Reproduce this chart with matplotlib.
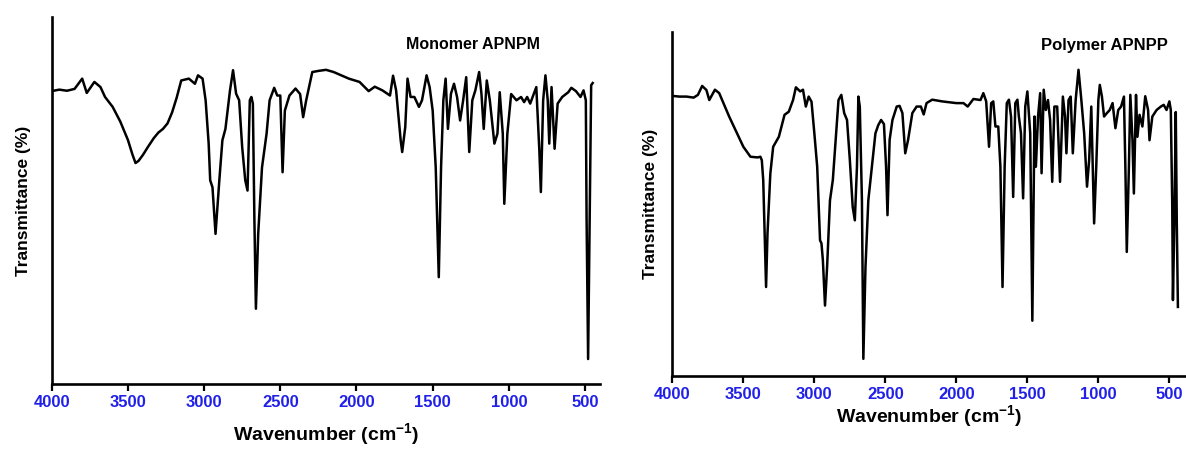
import matplotlib
matplotlib.use("Agg")
import matplotlib.pyplot as plt

plt.rcParams['font.family'] = ['Liberation Sans', 'DejaVu Sans']
plt.rcParams['mathtext.fontset'] = 'custom'
plt.rcParams['mathtext.rm'] = 'Liberation Sans:bold'
plt.rcParams['mathtext.bf'] = 'Liberation Sans:bold'

# ---- data: Monomer APNPM ----
mono_wn = [4000, 3950, 3900, 3850, 3800, 3770, 3720, 3680, 3650, 3600, 3550, 3500, 3470, 3450,
           3430, 3400, 3370, 3330, 3300, 3270, 3240, 3210, 3180, 3150, 3100, 3060, 3040, 3010,
           2990, 2970, 2960, 2945, 2925,
           2900, 2880, 2860, 2830, 2810, 2790, 2770, 2750, 2730, 2715, 2700, 2690, 2680, 2670,
           2660, 2645, 2620, 2590, 2570, 2540, 2520, 2500, 2485, 2470, 2440, 2400, 2370, 2350,
           2330, 2290, 2250, 2200, 2150, 2050, 1980, 1920, 1880, 1830, 1780, 1760, 1740, 1710,
           1700, 1680, 1665, 1645, 1620, 1590, 1570, 1540, 1520, 1500, 1480, 1460, 1445, 1430,
           1415, 1400, 1380, 1360, 1340, 1320, 1300, 1280, 1260, 1240, 1220, 1195, 1180, 1165,
           1145, 1125, 1095, 1075, 1060, 1040, 1030, 1010, 985, 950, 920, 900, 880, 860, 820,
           800, 790, 775, 760, 745, 735, 720, 700, 680, 650, 610, 590, 560, 530, 510, 495, 490,
           480, 470, 460, 450]
mono_t = [79.8, 80.2, 79.9, 80.4, 83.2, 79.3, 82.3, 80.9, 78.2, 75.5, 71.5, 66.5, 62.5, 60.2,
          60.8, 62.5, 64.5, 67.0, 68.5, 69.5, 71.0, 74.0, 78.0, 82.7, 83.2, 81.8, 84.1, 83.2,
          77.3, 65.5, 55.5, 53.6, 40.9,
          55.5, 66.4, 69.5, 80.0, 85.5, 79.1, 77.3, 64.5, 55.5, 52.7, 77.3, 78.2, 76.4, 45.0,
          20.5, 40.9, 59.0, 68.2, 77.3, 80.7, 78.6, 78.6, 57.7, 74.5, 78.6, 80.5, 79.0, 72.7,
          77.3, 85.0, 85.3, 85.6, 85.0, 83.2, 82.3, 79.8, 81.0, 80.0, 78.6, 84.0, 80.0, 66.4,
          63.2, 70.0, 83.2, 78.2, 78.2, 75.5, 77.3, 84.1, 80.9, 74.5, 59.0, 29.1, 59.0, 77.3,
          83.2, 69.5, 79.1, 81.8, 78.2, 71.8, 77.3, 83.6, 63.2, 77.3, 80.0, 85.0, 79.1, 69.5,
          82.7, 77.3, 65.5, 68.2, 79.5, 68.2, 49.1, 68.2, 79.0, 77.3, 78.2, 76.8, 78.2, 76.4,
          80.9, 63.6, 52.3, 77.3, 84.1, 77.3, 65.5, 80.9, 64.1, 76.4, 78.2, 79.5, 80.7, 79.8,
          78.2, 80.0, 77.3, 45.0, 6.8, 45.0, 81.4, 82.0]

# ---- data: Polymer APNPP ----
poly_wn = [4000, 3950, 3900, 3850, 3820, 3790, 3760, 3740, 3720, 3700, 3670, 3640, 3600, 3550,
           3500, 3450, 3400, 3380, 3370, 3360, 3350, 3340, 3330, 3310, 3290, 3250, 3210, 3180,
           3150, 3130, 3100, 3080, 3060, 3040, 3020, 3000, 2980, 2960, 2950, 2940, 2925, 2910,
           2890, 2870, 2850, 2830, 2810, 2790, 2770, 2750, 2730, 2715, 2700, 2690, 2680, 2665,
           2655, 2640, 2620, 2600, 2570, 2550, 2530, 2510, 2495, 2485, 2470, 2450, 2420, 2400,
           2380, 2360, 2340, 2310, 2280, 2250, 2230, 2210, 2170, 2100, 2000, 1950, 1920, 1880,
           1830, 1810, 1790, 1770, 1755, 1740, 1725, 1705, 1690, 1675, 1660, 1645, 1630, 1615,
           1600, 1585, 1570, 1560, 1545, 1530, 1515, 1500, 1480, 1465, 1450, 1440, 1425, 1410,
           1400, 1385, 1370, 1355, 1340, 1325, 1310, 1290, 1270, 1250, 1235, 1225, 1210, 1195,
           1180, 1160, 1140, 1120, 1100, 1080, 1065, 1050, 1040, 1030, 1015, 1000, 990, 975,
           960, 940, 920, 900, 880, 860, 840, 820, 810, 800, 785, 775, 760, 750, 735, 725, 710,
           690, 670, 650, 640, 620, 590, 560, 540, 520, 500, 490, 480, 475, 465, 455, 448, 440]
poly_t = [81.4, 81.2, 81.2, 80.9, 81.7, 84.3, 83.1, 80.2, 81.7, 83.2, 82.2, 79.3, 75.4, 71.0,
          66.6, 63.7, 63.5, 63.7, 62.7, 56.9, 41.3, 25.8, 41.3, 58.8, 66.6, 69.5, 75.9, 76.8,
          80.2, 83.9, 82.7, 83.2, 78.3, 81.2, 79.7, 70.5, 60.8, 39.4, 38.5, 33.6, 20.4, 31.9,
          51.0, 56.9, 68.6, 80.2, 81.7, 76.4, 74.4, 62.7, 49.1, 45.2, 60.8, 81.2, 78.3, 51.0,
          4.9, 31.6, 51.0, 58.8, 70.5, 72.9, 74.4, 73.2, 60.8, 46.7, 68.6, 74.4, 78.3, 78.5,
          76.4, 64.7, 68.6, 76.4, 78.3, 78.3, 76.0, 79.3, 80.3, 79.8, 79.3, 79.3, 78.3, 80.5,
          80.2, 82.2, 79.8, 66.6, 79.3, 79.8, 72.5, 72.5, 60.8, 25.8, 60.8, 79.3, 80.3, 75.4,
          52.0, 79.3, 80.3, 75.4, 70.5, 51.6, 78.3, 82.7, 70.5, 16.0, 75.4, 60.8, 75.4, 82.2,
          58.9, 83.2, 77.3, 80.2, 74.4, 56.4, 78.3, 78.3, 56.4, 81.2, 75.4, 64.7, 80.2, 81.2,
          64.7, 80.2, 89.0, 80.2, 70.5, 55.0, 62.7, 78.3, 60.8, 44.3, 60.8, 80.2, 84.6, 81.2,
          75.4, 76.4, 77.3, 79.3, 72.0, 77.3, 78.3, 81.2, 60.8, 36.0, 60.8, 81.7, 68.6, 53.0,
          81.7, 69.5, 75.9, 72.5, 81.3, 77.3, 68.5, 75.4, 77.3, 78.3, 78.8, 77.3, 79.8, 77.3,
          50.0, 22.0, 45.0, 76.7, 45.0, 20.0]

xticks = [4000, 3500, 3000, 2500, 2000, 1500, 1000, 500]
xtick_labels = [str(v) for v in xticks]

fig = plt.figure(figsize=(11.86, 4.49), dpi=100)

panels = [
    dict(rect=[0.0436, 0.1448, 0.4623, 0.8174], wn=mono_wn, t=mono_t, xlim=(4000, 402),
         title="Monomer APNPM", tpos=(0.89, 0.925), tsize=11.5, ylab_x=-0.052, xlab_y=-0.139),
    dict(rect=[0.5669, 0.1633, 0.4331, 0.7655], wn=poly_wn, t=poly_t, xlim=(4000, 383),
         title="Polymer APNPP", tpos=(0.965, 0.962), tsize=12, ylab_x=-0.043, xlab_y=-0.12),
]

for p in panels:
    ax = fig.add_axes(p['rect'])
    ax.plot(p['wn'], p['t'], color='black', lw=1.8, solid_joinstyle='round')
    ax.set_xlim(*p['xlim'])
    ax.set_ylim(0, 100)
    ax.spines['top'].set_visible(False)
    ax.spines['right'].set_visible(False)
    ax.spines['left'].set_linewidth(1.9)
    ax.spines['bottom'].set_linewidth(1.9)
    ax.set_yticks([])
    ax.set_xticks(xticks)
    ax.set_xticklabels(xtick_labels, fontsize=12, fontweight='bold', color='#2020e8')
    ax.tick_params(axis='x', direction='out', length=5, width=1.6, pad=3)
    ax.set_xlabel(r'Wavenumber (cm$^{-1}$)', fontsize=14, fontweight='bold')
    ax.xaxis.label.set_va('center')
    ax.xaxis.set_label_coords(0.5, p['xlab_y'])
    ax.set_ylabel('Transmittance (%)', fontsize=12.5, fontweight='bold')
    ax.yaxis.label.set_va('center')
    ax.yaxis.set_label_coords(p['ylab_x'], 0.5)
    ax.text(p['tpos'][0], p['tpos'][1], p['title'], transform=ax.transAxes,
            ha='right', va='center', fontsize=p['tsize'], fontweight='bold')

fig.savefig('out.png', dpi=100)
